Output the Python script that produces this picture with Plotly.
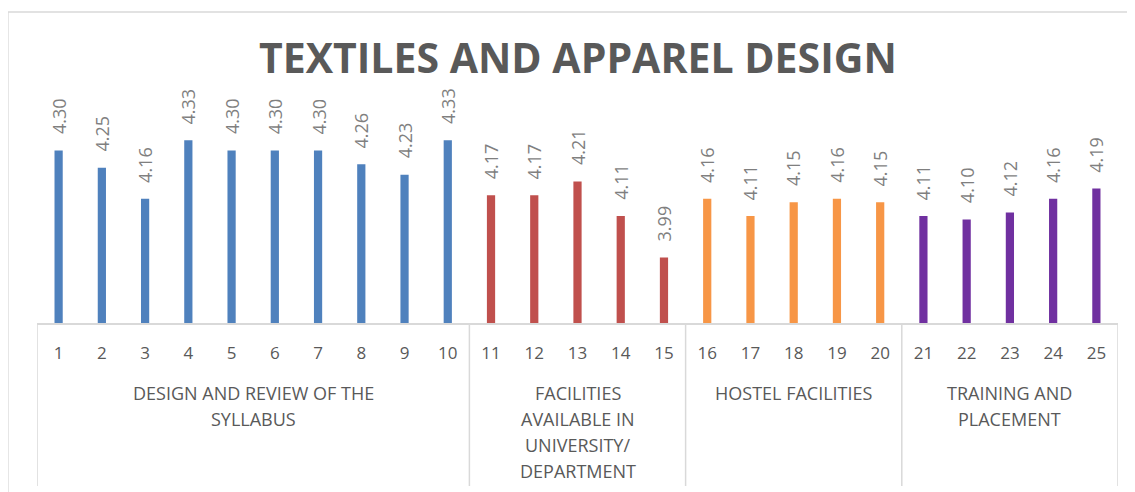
import plotly.graph_objects as go

categories = [str(i) for i in range(1, 26)]
syllabus = [4.30, 4.25, 4.16, 4.33, 4.30, 4.30, 4.30, 4.26, 4.23, 4.33]
facilities = [4.17, 4.17, 4.21, 4.11, 3.99]
hostel = [4.16, 4.11, 4.15, 4.16, 4.15]
training = [4.11, 4.10, 4.12, 4.16, 4.19]
group_names = [
    ["DESIGN AND REVIEW OF THE", "SYLLABUS"],
    ["FACILITIES", "AVAILABLE IN", "UNIVERSITY/", "DEPARTMENT"],
    ["HOSTEL FACILITIES"],
    ["TRAINING AND", "PLACEMENT"],
]
group_values = [syllabus, facilities, hostel, training]
group_colors = ["#4F81BD", "#C0504D", "#F79646", "#7030A0"]

values = [v for g in group_values for v in g]
colors = [c for g, c in zip(group_values, group_colors) for _ in g]

OFF = 8  # page body margin
W, H = 1135 - OFF, 492 - OFF
L, R, T, B = 37 - OFF, 17, 116 - OFF, 492 - 323
pw, ph = W - L - R, H - T - B

def px_x(p):
    return (p - OFF - L) / pw

def px_y(p):
    return (H - B - (p - OFF)) / ph

fig = go.Figure()
fig.add_trace(go.Bar(
    x=categories, y=values, marker=dict(color=colors, line_width=0),
    width=0.19, hoverinfo="skip",
))

shapes = []
shapes.append(dict(type="rect", xref="paper", yref="paper",
                   x0=px_x(8), x1=px_x(1145), y0=px_y(510), y1=px_y(12),
                   line=dict(color="#d9d9d9", width=1.3), layer="below"))
edges = [0]
for g in group_values:
    edges.append(edges[-1] + len(g))
for e in edges:
    shapes.append(dict(type="line", xref="x", yref="paper",
                       x0=e - 0.5, x1=e - 0.5, y0=0, y1=px_y(486),
                       line=dict(color="#d9d9d9", width=1.5)))

annotations = []
for i, v in enumerate(values):
    annotations.append(dict(
        x=i, y=v, xref="x", yref="y", text=f"{v:.2f}", textangle=-90,
        showarrow=False, yanchor="bottom", xanchor="center", yshift=14,
        font=dict(family="Open Sans", size=18, color="#7f7f7f"),
    ))
for i, (lines, g) in enumerate(zip(group_names, group_values)):
    mid = (edges[i] + edges[i + 1] - 1) / 2
    for j, line in enumerate(lines):
        annotations.append(dict(
            x=mid, xref="x", y=px_y(393 + 26 * j), yref="paper",
            yanchor="middle", text=line, showarrow=False,
            font=dict(family="Open Sans", size=18, color="#595959"),
        ))
annotations.append(dict(
    x=0.5, xref="paper", y=px_y(57), yref="paper", yanchor="middle",
    text="<b>TEXTILES AND APPAREL DESIGN</b>", showarrow=False,
    font=dict(family="Open Sans", size=41, color="#595959"),
))

fig.update_layout(
    width=W, height=H, margin=dict(l=L, r=R, t=T, b=B),
    paper_bgcolor="white", plot_bgcolor="white",
    showlegend=False, shapes=shapes, annotations=annotations,
)
fig.update_xaxes(
    type="category", range=[-0.5, 24.5], showgrid=False,
    showline=True, linecolor="#d9d9d9", linewidth=1.5,
    ticks="", ticklabelstandoff=14,
    tickfont=dict(family="Open Sans", size=17, color="#595959"),
)
fig.update_yaxes(range=[3.8, 4.4], visible=False, showgrid=False)

fig.write_html("out.html")
